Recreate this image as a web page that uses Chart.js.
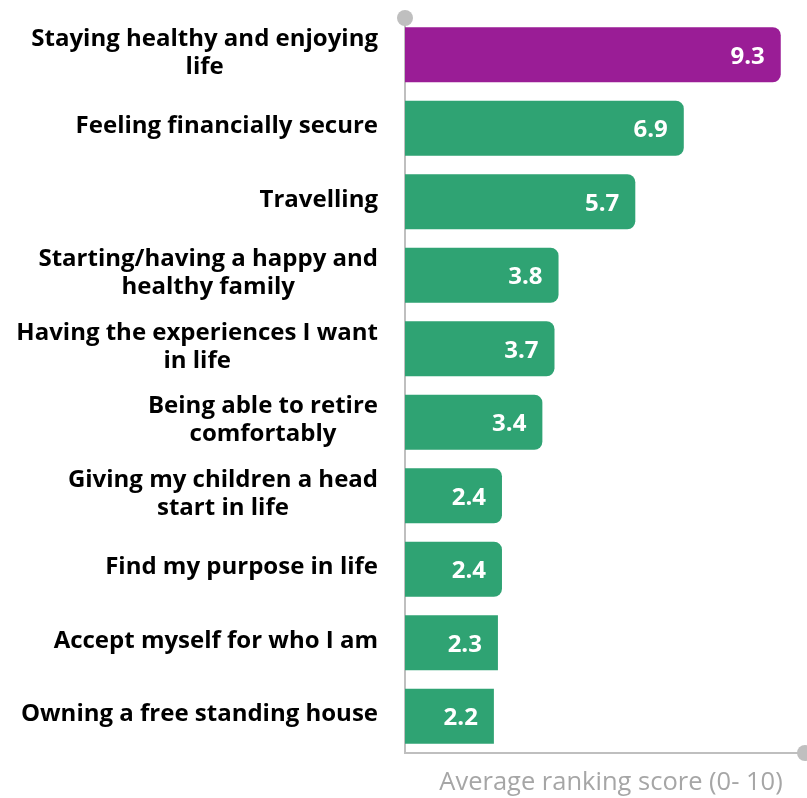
<!DOCTYPE html>
<html>
<head>
<meta charset="utf-8">
<script src="https://cdn.jsdelivr.net/npm/chart.js@4.4.1/dist/chart.umd.min.js"></script>
<style>
  html, body { margin: 0; padding: 0; background: #fff; }
  #wrap { width: 807px; height: 798px; position: relative; }
</style>
</head>
<body>
<div id="wrap"><canvas id="chart"></canvas></div>
<script>
// categories (one array of lines per label) and average ranking scores
const categories = [
    ['Staying healthy and enjoying', 'life'],
    ['Feeling financially secure'],
    ['Travelling'],
    ['Starting/having a happy and', 'healthy family'],
    ['Having the experiences I want', 'in life'],
    ['Being able to retire', 'comfortably'],
    ['Giving my children a head', 'start in life'],
    ['Find my purpose in life'],
    ['Accept myself for who I am'],
    ['Owning a free standing house']
];
const scores = [9.3, 6.9, 5.7, 3.8, 3.7, 3.4, 2.4, 2.4, 2.3, 2.2];
const axisTitle = 'Average ranking score (0- 10)';

const PURPLE = '#9a1d96';
const GREEN = '#2fa373';
const AXIS_GREY = '#bfbfbf';
const FONT = '"Open Sans", Lato, sans-serif';

// draws the category labels (right aligned block, lines centred), values and axis end dots
const decorations = {
    id: 'decorations',
    afterDraw(chart) {
        const ctx = chart.ctx;
        const area = chart.chartArea;
        const y = chart.scales.y;
        ctx.save();

        // category labels
        ctx.font = 'bold 24px ' + FONT;
        ctx.fillStyle = '#000';
        ctx.textAlign = 'center';
        ctx.textBaseline = 'middle';
        const lh = 28;
        categories.forEach((lines, i) => {
            const cy = y.getPixelForTick(i) - 2;
            const widest = Math.max(...lines.map(l => ctx.measureText(l).width));
            const cx = area.left - 27 - widest / 2;
            const y0 = cy - (lines.length - 1) * lh / 2;
            lines.forEach((l, j) => ctx.fillText(l, cx, y0 + j * lh));
        });

        // value labels inside bars
        ctx.font = 'bold 24px ' + FONT;
        ctx.fillStyle = '#fff';
        ctx.textAlign = 'right';
        const meta = chart.getDatasetMeta(0);
        meta.data.forEach((bar, i) => {
            ctx.fillText(scores[i].toFixed(1), bar.x - 16, bar.y + 2);
        });

        // dots at the axis ends
        ctx.fillStyle = AXIS_GREY;
        ctx.beginPath();
        ctx.arc(area.left, area.top, 8, 0, Math.PI * 2);
        ctx.fill();
        ctx.beginPath();
        ctx.arc(area.right, area.bottom, 8, 0, Math.PI * 2);
        ctx.fill();

        // axis title
        ctx.font = '25.5px ' + FONT;
        ctx.fillStyle = '#a6a6a6';
        ctx.textAlign = 'center';
        ctx.fillText(axisTitle, 611, 783);
        ctx.restore();
    }
};

new Chart(document.getElementById('chart'), {
    type: 'bar',
    data: {
        labels: categories,
        datasets: [{
            data: scores,
            backgroundColor: scores.map((v, i) => i === 0 ? PURPLE : GREEN),
            borderRadius: c => c.dataIndex < 8 ? { topRight: 8, bottomRight: 8, topLeft: 0, bottomLeft: 0 } : 0,
            borderSkipped: 'start',
            barPercentage: 0.75,
            categoryPercentage: 1
        }]
    },
    options: {
        indexAxis: 'y',
        responsive: true,
        maintainAspectRatio: false,
        animation: false,
        layout: { padding: { top: 18, right: 2, left: 0, bottom: 0 } },
        plugins: { legend: { display: false }, tooltip: { enabled: false } },
        scales: {
            x: {
                min: 0,
                max: 9.9,
                grid: { display: false, drawTicks: false },
                border: { display: true, color: AXIS_GREY, width: 2 },
                ticks: { display: false },
                afterFit: s => { s.height = 45; }
            },
            y: {
                grid: { display: false, drawTicks: false },
                border: { display: true, color: AXIS_GREY, width: 2 },
                ticks: { display: false },
                afterFit: s => { s.width = 405; }
            }
        }
    },
    plugins: [decorations]
});
</script>
</body>
</html>
